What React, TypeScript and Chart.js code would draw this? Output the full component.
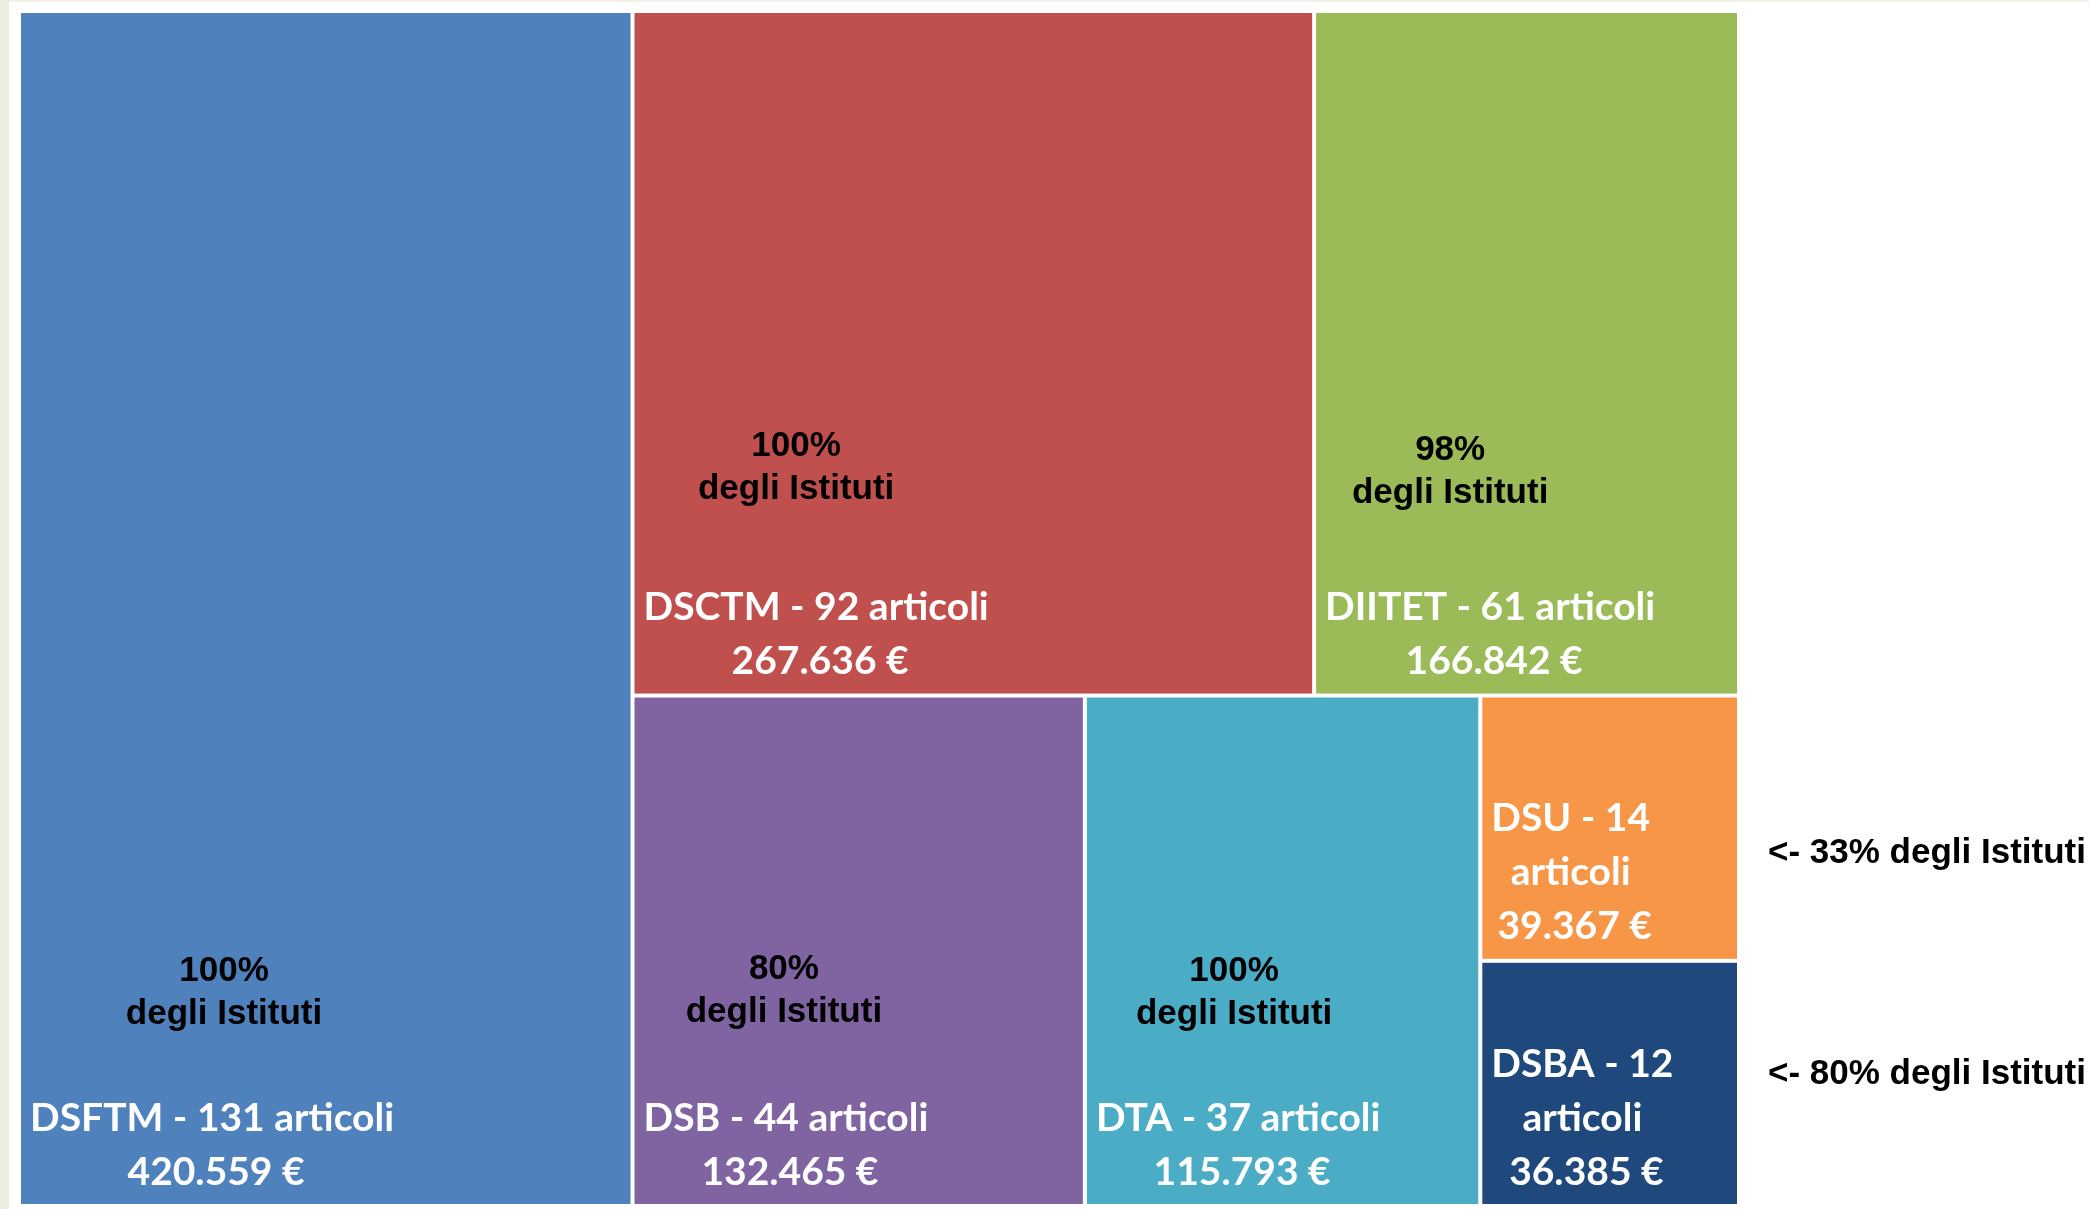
import React, { useEffect, useRef } from "react";
import { Chart, registerables } from "chart.js";

Chart.register(...registerables);

// ---------- data ----------
const departments = ["DSFTM", "DSCTM", "DIITET", "DSB", "DTA", "DSU", "DSBA"];
const articleCounts = [131, 92, 61, 44, 37, 14, 12];
const fundingEuro = [420559, 267636, 166842, 132465, 115793, 39367, 36385];
const instituteShare = [100, 100, 98, 80, 100, 33, 80];

// ---------- styles ----------
const cellColors = ["#4f81bd", "#c0504d", "#9bbb59", "#8064a2", "#4bacc6", "#f79646", "#1f497d"];
const shareLabelShiftX = [12, -20, -40, -2, -4, 0, 0];
const shareLabelShiftY = [0, -14, -10, -2, 0, 0, 0];
const outsideShiftY = [0, 0, 0, 0, 0, 25, -9];
const WHITE_FONT = "bold 39px Lato";
const BLACK_FONT = "bold 35px 'Liberation Sans', Arial, sans-serif";
const GAP = 2;

type R = { x: number; y: number; w: number; h: number };

function worst(areas: number[], side: number): number {
  const s = areas.reduce((a, b) => a + b, 0);
  const mx = Math.max(...areas);
  const mn = Math.min(...areas);
  return Math.max((side * side * mx) / (s * s), (s * s) / (side * side * mn));
}

// squarified treemap in a (aspect x 1) data rectangle
function squarify(values: number[], aspect: number): R[] {
  const total = values.reduce((a, b) => a + b, 0);
  const items = values.map((v, i) => ({ i, a: (v / total) * aspect }));
  const out: R[] = new Array(values.length);
  let x = 0, y = 0, w = aspect, h = 1;
  let rest = items.slice();
  while (rest.length) {
    const side = Math.min(w, h);
    let row = [rest[0]];
    let k = 1;
    while (k < rest.length) {
      const cand = row.concat([rest[k]]);
      if (worst(cand.map((c) => c.a), side) <= worst(row.map((c) => c.a), side)) {
        row = cand;
        k++;
      } else break;
    }
    const s = row.reduce((acc, c) => acc + c.a, 0);
    if (w >= h) {
      const cw = s / h;
      let yy = y;
      for (const c of row) {
        const rh = c.a / cw;
        out[c.i] = { x, y: yy, w: cw, h: rh };
        yy += rh;
      }
      x += cw;
      w -= cw;
    } else {
      const rh = s / w;
      let xx = x;
      for (const c of row) {
        const rw = c.a / rh;
        out[c.i] = { x: xx, y, w: rw, h: rh };
        xx += rw;
      }
      y += rh;
      h -= rh;
    }
    rest = rest.slice(row.length);
  }
  return out;
}

function fmtEuro(v: number): string {
  return String(v).replace(/\B(?=(\d{3})+(?!\d))/g, ".");
}

function wrap(ctx: CanvasRenderingContext2D, text: string, maxW: number): string[] {
  const words = text.split(" ");
  const lines: string[] = [];
  let cur = "";
  for (const wd of words) {
    const test = cur ? cur + " " + wd : wd;
    if (cur && ctx.measureText(test).width > maxW) {
      lines.push(cur);
      cur = wd;
    } else cur = test;
  }
  if (cur) lines.push(cur);
  return lines;
}

const treemapPlugin = {
  id: "treemapCells",
  beforeDraw(chart: any) {
    const { ctx, width, height } = chart;
    ctx.save();
    ctx.fillStyle = "#ffffff";
    ctx.fillRect(0, 0, width, height);
    ctx.fillStyle = "#f4f2e8";
    ctx.fillRect(0, 0, width, 2);
    ctx.fillStyle = "#eeebdf";
    ctx.fillRect(0, 0, 9, height);
    ctx.restore();
  },
  afterDatasetsDraw(chart: any) {
    const { ctx, chartArea, scales } = chart;
    const xs = scales.x;
    const ys = scales.y;
    const aspect = chartArea.width / chartArea.height;
    const rects = squarify(fundingEuro, aspect);
    ctx.save();
    rects.forEach((r, i) => {
      const left = xs.getPixelForValue(r.x / aspect) + GAP;
      const right = xs.getPixelForValue((r.x + r.w) / aspect) - GAP;
      const top = ys.getPixelForValue(r.y) + GAP;
      const bottom = ys.getPixelForValue(r.y + r.h) - GAP;
      ctx.fillStyle = cellColors[i];
      ctx.fillRect(left, top, right - left, bottom - top);

      // white label block
      ctx.font = WHITE_FONT;
      const nameLines = wrap(ctx, `${departments[i]} - ${articleCounts[i]} articoli`, right - left - 20);
      const lines = [...nameLines, `${fmtEuro(fundingEuro[i])} €`];
      const maxW = Math.max(...lines.map((l) => ctx.measureText(l).width));
      const cx = left + 9 + maxW / 2;
      ctx.fillStyle = "#ffffff";
      ctx.textAlign = "center";
      ctx.textBaseline = "middle";
      const n = lines.length;
      lines.forEach((l, k) => {
        const dx = k === n - 1 ? 4 : 0;
        ctx.fillText(l, cx + dx, bottom - 32 - (n - 1 - k) * 54);
      });

      // share of institutes
      ctx.font = BLACK_FONT;
      ctx.fillStyle = "#000000";
      if (nameLines.length === 1) {
        const bx = cx + shareLabelShiftX[i];
        const by = bottom + shareLabelShiftY[i];
        ctx.textAlign = "center";
        ctx.fillText(`${instituteShare[i]}%`, bx, by - 233);
        ctx.fillText("degli Istituti", bx, by - 190);
      } else {
        ctx.textAlign = "left";
        ctx.fillText(
          `<- ${instituteShare[i]}% degli Istituti`,
          chartArea.right + 29,
          (top + bottom) / 2 + outsideShiftY[i]
        );
      }
    });
    ctx.restore();
  },
};

export default function App() {
  const ref = useRef<HTMLCanvasElement | null>(null);
  useEffect(() => {
    document.body.style.margin = "0";
    document.documentElement.style.overflow = "hidden";
    if (!ref.current) return;
    const chart = new Chart(ref.current, {
      type: "scatter",
      data: { datasets: [{ data: [] }] },
      options: {
        animation: false,
        responsive: false,
        layout: { padding: { left: 19, top: 11, right: 350, bottom: 3 } },
        scales: {
          x: { type: "linear", min: 0, max: 1, display: false },
          y: { type: "linear", min: 0, max: 1, reverse: true, display: false },
        },
        plugins: { legend: { display: false }, tooltip: { enabled: false } },
      },
      plugins: [treemapPlugin],
    } as any);
    return () => chart.destroy();
  }, []);
  return (
    <div style={{ width: 2089, height: 1209 }}>
      <canvas ref={ref} width={2089} height={1209} style={{ display: "block" }} />
    </div>
  );
}
